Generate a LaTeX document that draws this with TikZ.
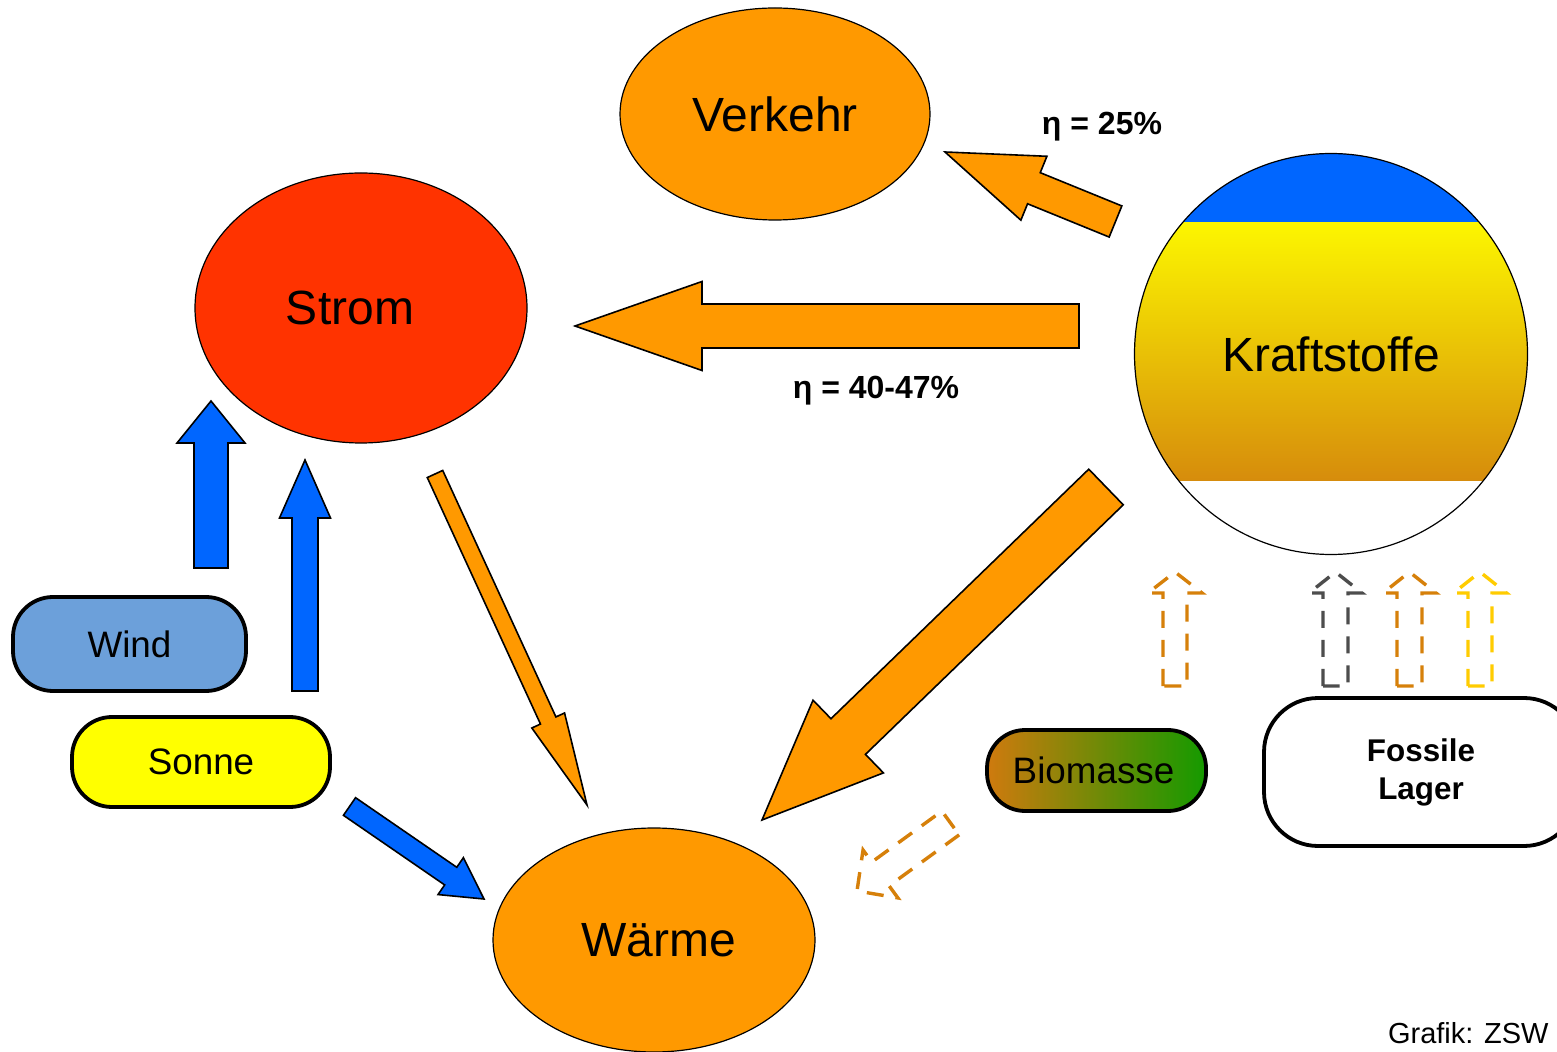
\documentclass[tikz,border=0pt]{standalone}
\usepackage{fontspec}
\setmainfont{Liberation Sans}
\usetikzlibrary{calc,shapes.geometric}
\definecolor{korange}{HTML}{FF9900}
\definecolor{kred}{HTML}{FF3300}
\definecolor{kblue}{HTML}{0066FF}
\definecolor{kwind}{HTML}{6CA0DA}
\definecolor{kyellow}{HTML}{FFFF00}
\definecolor{kftop}{HTML}{FCF600}
\definecolor{kfbot}{HTML}{D68C0C}
\definecolor{bioL}{HTML}{CF7A0E}
\definecolor{bioR}{HTML}{149A00}
\definecolor{dorange}{HTML}{D6800A}
\definecolor{dgray}{HTML}{4D4D4D}
\definecolor{dyellow}{HTML}{FFCC00}
% block arrow: style, tail, tip, shaft half width, head half width, head length
\newcommand\blockarrow[6]{%
  \coordinate (ba) at ($(#3)!#6!(#2)$);
  \draw[#1] ($(#2)!#4!90:(#3)$) -- ($(ba)!#4!90:(#3)$) -- ($(ba)!#5!90:(#3)$) -- (#3)
    -- ($(ba)!#5!-90:(#3)$) -- ($(ba)!#4!-90:(#3)$) -- ($(#2)!#4!-90:(#3)$) -- cycle;}
\begin{document}
\begin{tikzpicture}[x=0.5pt,y=-0.5pt,
  bigell/.style={ellipse, draw=black, line width=0.6pt, inner sep=0pt, font=\fontsize{24}{28}\selectfont},
  pill/.style={rectangle, rounded corners=#1, draw=black, line width=1.9pt, inner sep=0pt, font=\fontsize{18.4}{22}\selectfont},
  pill/.default=20pt,
  orangearrow/.style={fill=korange, draw=black, line width=0.8pt},
  bluearrow/.style={fill=kblue, draw=black, line width=0.8pt},
  dasharrow/.style={draw=#1, line width=1.7pt, dash pattern=on 8.5pt off 6pt},
  etalabel/.style={font=\bfseries\fontsize{16}{19}\selectfont, inner sep=0pt}]
\useasboundingbox[fill=white] (0,0) rectangle (1557,1052);

% Kraftstoffe fill
\begin{scope}
  \clip (1331,354) ellipse [x radius=98.25pt, y radius=100.25pt];
  \fill[kblue] (1130,150) rectangle (1535,223);
  \shade[top color=kftop, bottom color=kfbot] (1130,223) rectangle (1535,481);
\end{scope}

% main nodes
\node[bigell, fill=korange, minimum width=155pt, minimum height=106pt] (verkehr) at (775,114) {Verkehr};
\node[bigell, fill=kred, minimum width=166pt, minimum height=135pt, text depth=-1.5pt] (strom) at (361,308) {\hspace*{-11pt}Strom};
\node[bigell, fill=korange, minimum width=161pt, minimum height=112pt] (waerme) at (654,940) {\hspace*{5pt}Wärme};
\node[bigell, minimum width=196.5pt, minimum height=200.5pt, text depth=-1.5pt] (kraft) at (1331,354) {Kraftstoffe};

\node[pill, fill=kwind, minimum width=116.5pt, minimum height=47pt] (wind) at (129.5,644) {Wind};
\node[pill, fill=kyellow, minimum width=129pt, minimum height=45pt] (sonne) at (201,762) {Sonne};
\node[pill=19pt, left color=bioL, right color=bioR, minimum width=109.5pt, minimum height=40.5pt] (bio) at (1096.5,770.5) {\hspace*{-3pt}Biomasse};
\node[pill=27pt, fill=white, minimum width=157pt, minimum height=74pt, align=center,
      font=\bfseries\fontsize{15.7}{19}\selectfont] (fossil) at (1421,772) {Fossile\\Lager};

\node[etalabel] (eta1) at (1102,127) {η = 25\%};
\node[etalabel] (eta2) at (876,391) {η = 40-47\%};
\node[font=\fontsize{14.5}{17}\selectfont, anchor=east, inner sep=0pt] (credit) at (1549,1033) {Grafik: ZSW};

% arrow end points
\coordinate (a1t) at (1115.5,221.5); \coordinate (a1h) at (945,152);
\coordinate (a2t) at (1079,326);     \coordinate (a2h) at (575,326);
\coordinate (a3t) at (435,474);      \coordinate (a3h) at (587,805);
\coordinate (a4t) at (1106,487);     \coordinate (a4h) at (762,820);
\coordinate (b1t) at (211,568);      \coordinate (b1h) at (211,401);
\coordinate (b2t) at (305,691);      \coordinate (b2h) at (305,460);
\coordinate (b3t) at (349.5,806.5);  \coordinate (b3h) at (484,899);
\coordinate (d1t) at (1175,686);     \coordinate (d1h) at (1175,572);
\coordinate (d2t) at (1335.5,686);   \coordinate (d2h) at (1335.5,572);
\coordinate (d3t) at (1409.5,686);   \coordinate (d3h) at (1409.5,572);
\coordinate (d4t) at (1480,686);     \coordinate (d4h) at (1480,572);
\coordinate (d5t) at (950.5,823);    \coordinate (d5h) at (857,891);

\blockarrow{orangearrow}{a1t}{a1h}{8.4pt}{17.25pt}{48pt}
\blockarrow{orangearrow}{a2t}{a2h}{11pt}{22.25pt}{63.5pt}
\blockarrow{orangearrow}{a3t}{a3h}{4.25pt}{9pt}{46.5pt}
\blockarrow{orangearrow}{a4t}{a4h}{12.4pt}{25.3pt}{60pt}
\blockarrow{bluearrow}{b1t}{b1h}{8.5pt}{17pt}{21pt}
\blockarrow{bluearrow}{b2t}{b2h}{6.5pt}{12.75pt}{29pt}
\blockarrow{bluearrow}{b3t}{b3h}{5.35pt}{11.2pt}{20.2pt}
\blockarrow{dasharrow=dorange}{d1t}{d1h}{6pt}{13.5pt}{10.5pt}
\blockarrow{dasharrow=dgray}{d2t}{d2h}{6.25pt}{13.25pt}{10.5pt}
\blockarrow{dasharrow=dorange}{d3t}{d3h}{6.25pt}{13.25pt}{10.5pt}
\blockarrow{dasharrow=dyellow}{d4t}{d4h}{6pt}{13.25pt}{10.5pt}
\blockarrow{dasharrow=dorange}{d5t}{d5h}{7.35pt}{14.8pt}{14.5pt}
\end{tikzpicture}
\end{document}
